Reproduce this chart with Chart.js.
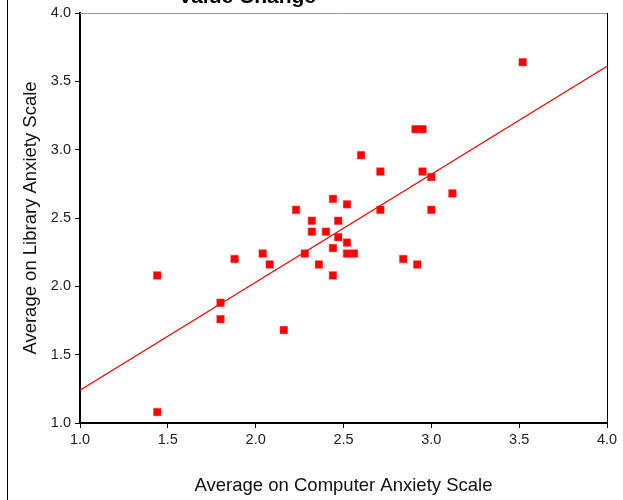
<!DOCTYPE html>
<html>
<head>
<meta charset="utf-8">
<script src="https://cdn.jsdelivr.net/npm/chart.js@4"></script>
<style>
  body { margin: 0; background: #fff; }
  #wrap { position: relative; width: 623px; height: 500px; }
  #frame { position: absolute; left: 7px; top: 0; width: 1px; height: 500px; background: #000; }
</style>
</head>
<body>
<div id="wrap">
  <canvas id="scatter" width="623" height="500"></canvas>
  <div id="frame"></div>
</div>
<script>
// values
const computerAvg = [1.44, 1.44, 1.80, 1.80, 1.88, 2.04, 2.08, 2.16, 2.23, 2.28, 2.32, 2.32, 2.36, 2.40, 2.44, 2.44, 2.44, 2.47, 2.47, 2.52, 2.52, 2.52, 2.56, 2.60, 2.71, 2.71, 2.84, 2.92, 2.91, 2.95, 2.95, 3.00, 3.00, 3.12, 3.52];
const libraryAvg  = [2.08, 1.08, 1.88, 1.76, 2.20, 2.24, 2.16, 1.68, 2.56, 2.24, 2.48, 2.40, 2.16, 2.40, 2.64, 2.28, 2.08, 2.48, 2.36, 2.60, 2.32, 2.24, 2.24, 2.96, 2.84, 2.56, 2.20, 2.16, 3.15, 3.15, 2.84, 2.80, 2.56, 2.68, 3.64];

// fit line end points, as seen at the plot edges
const fitX = [1.0, 4.0];
const fitY = [1.24, 3.61];

const axisTicks = [1.0, 1.5, 2.0, 2.5, 3.0, 3.5, 4.0];

const points = computerAvg.map((x, i) => ({ x: x, y: libraryAvg[i] }));
const fitLine = fitX.map((x, i) => ({ x: x, y: fitY[i] }));

// grey top edge and black right edge of the plot box, plus the cut-off title
const boxPlugin = {
  id: "box",
  afterDraw(c) {
    const a = c.chartArea;
    const ctx = c.ctx;
    ctx.save();
    ctx.lineWidth = 1;
    ctx.strokeStyle = "#999";
    ctx.beginPath();
    ctx.moveTo(a.left, a.top + 0.5);
    ctx.lineTo(a.right, a.top + 0.5);
    ctx.stroke();
    ctx.strokeStyle = "#000";
    ctx.beginPath();
    ctx.moveTo(a.right + 0.5, a.top);
    ctx.lineTo(a.right + 0.5, a.bottom);
    ctx.stroke();
    ctx.fillStyle = "#000";
    ctx.font = "bold 21px 'Liberation Sans', Arial, sans-serif";
    ctx.textAlign = "right";
    ctx.textBaseline = "alphabetic";
    ctx.fillText("Value Change", 316, 3);
    ctx.restore();
  }
};

const tickFont = { family: "'Liberation Sans', Arial, sans-serif", size: 14.5 };
const titleFont = { family: "'Liberation Sans', Arial, sans-serif", size: 18.5 };

new Chart(document.getElementById("scatter"), {
  type: "scatter",
  data: {
    datasets: [
      {
        label: "Fit",
        type: "line",
        data: fitLine,
        borderColor: "#ff0000",
        borderWidth: 1.2,
        pointRadius: 0,
        fill: false,
        order: 2
      },
      {
        label: "Cases",
        data: points,
        pointStyle: "rect",
        pointRadius: 5.3,
        backgroundColor: "#ff0000",
        borderColor: "#ff2a2a",
        borderWidth: 0.5,
        order: 1
      }
    ]
  },
  plugins: [boxPlugin],
  options: {
    responsive: false,
    animation: false,
    devicePixelRatio: 1,
    layout: { padding: { top: 13, right: 16, bottom: 0, left: 0 } },
    plugins: {
      legend: { display: false },
      tooltip: { enabled: false }
    },
    scales: {
      x: {
        type: "linear",
        min: 1, max: 4,
        afterBuildTicks: s => { s.ticks = axisTicks.map(v => ({ value: v })); },
        afterFit: s => { s.height = 77; },
        border: { color: "#000", width: 2 },
        grid: { drawOnChartArea: false, color: "#000", tickLength: 5, tickWidth: 1 },
        ticks: { color: "#222", font: tickFont, padding: 3, maxRotation: 0, callback: v => v.toFixed(1) },
        title: { display: true, text: "Average on Computer Anxiety Scale", color: "#111", font: titleFont, padding: { top: 3, bottom: 3 } }
      },
      y: {
        type: "linear",
        min: 1, max: 4,
        afterBuildTicks: s => { s.ticks = axisTicks.map(v => ({ value: v })); },
        afterFit: s => { s.width = 80; },
        border: { color: "#000", width: 2 },
        grid: { drawOnChartArea: false, color: "#000", tickLength: 5, tickWidth: 1 },
        ticks: { color: "#222", font: tickFont, padding: 4, callback: v => v.toFixed(1) },
        title: { display: true, text: "Average on Library Anxiety Scale", color: "#111", font: titleFont, padding: { top: 20, bottom: 20 } }
      }
    }
  }
});
</script>
</body>
</html>
